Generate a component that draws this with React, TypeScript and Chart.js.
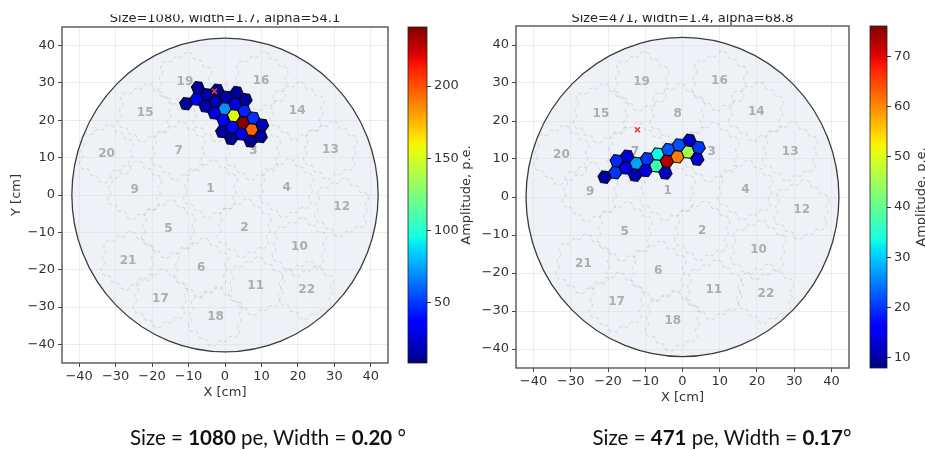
import React, { useEffect, useRef } from "react";
import { Chart, registerables } from "chart.js";

Chart.register(...registerables);

const FONT = '"DejaVu Sans", Verdana, sans-serif';

// ---------- axes ----------
const axisTickValues = [-40, -30, -20, -10, 0, 10, 20, 30, 40];
const xLimits = [-44.7, 44.7];
const yLimits = [-45, 45];
const cameraRadius = 42;

// ---------- camera modules (clusters) ----------
const moduleNames = ["1", "2", "3", "4", "5", "6", "7", "8", "9", "10", "11", "12", "13", "14", "15", "16", "17", "18", "19", "20", "21", "22"];
const moduleX = [-4.0, 5.3, 7.8, 16.9, -15.5, -6.5, -12.7, -1.3, -24.8, 20.4, 8.4, 32.0, 28.9, 19.8, -21.9, 9.9, -17.7, -2.6, -11.0, -32.5, -26.6, 22.4];
const moduleY = [1.6, -8.9, 11.8, 1.8, -9.1, -19.4, 11.8, 22.0, 1.3, -13.9, -24.4, -3.3, 12.0, 22.5, 22.0, 30.5, -27.7, -32.7, 30.4, 11.0, -17.6, -25.5];

// ---------- left event ----------
const leftTitle = "Size=1080, width=1.7, alpha=54.1";
const leftPixX = [-10.68, -7.83, -7.45, -5.36, -4.98, -2.89, -2.51, -2.13, -0.8, -0.42, -0.04, 0.34, 1.67, 2.05, 2.43, 2.81, 3.19, 4.52, 4.9, 5.28, 5.66, 6.99, 7.37, 7.75, 9.84, 10.22];
const leftPixY = [24.46, 25.67, 28.75, 23.8, 26.88, 21.93, 25.01, 28.09, 16.98, 20.06, 23.14, 26.22, 15.11, 18.19, 21.27, 24.35, 27.43, 16.32, 19.4, 22.48, 25.56, 14.45, 17.53, 20.61, 15.66, 18.74];
const leftPixAmp = [14, 32, 15, 18, 16, 28, 20, 13, 15, 35, 70, 16, 12, 38, 152, 30, 14, 30, 240, 45, 14, 13, 195, 48, 15, 20];
const leftMarkX = [-2.9];
const leftMarkY = [27.8];
const leftCbRange = [8, 241];
const leftCbTicks = [50, 100, 150, 200];
const leftSize = "1080";
const leftWidth = "0.20";

// ---------- right event ----------
const rightTitle = "Size=471, width=1.4, alpha=68.8";
const rightPixX = [-20.92, -18.07, -17.69, -14.84, -15.22, -12.37, -12.75, -9.52, -9.9, -6.67, -7.05, -4.2, -4.58, -3.82, -1.35, -0.97, 1.88, 1.5, 4.35, 3.97];
const rightPixY = [5.22, 6.43, 9.51, 10.72, 7.64, 8.85, 5.77, 10.06, 6.98, 11.27, 8.19, 9.4, 6.32, 12.48, 10.61, 13.69, 14.9, 11.82, 13.03, 9.95];
const rightPixAmp = [10, 20, 19, 13, 14, 27, 11, 20, 14, 33, 37, 73, 12, 22, 61, 22, 12, 45, 20, 13];
const rightMarkX = [-12.1];
const rightMarkY = [17.7];
const rightCbRange = [8, 76];
const rightCbTicks = [10, 20, 30, 40, 50, 60, 70];
const rightSize = "471";
const rightWidth = "0.17";

// ---------- pixel geometry ----------
const pixelPitch = 3.1;
const latticeRot = (-7 * Math.PI) / 180;
const hexR = pixelPitch / Math.sqrt(3);

// jet colormap
const jetR = [[0, 0], [0.35, 0], [0.66, 1], [0.89, 1], [1, 0.5]];
const jetG = [[0, 0], [0.125, 0], [0.375, 1], [0.64, 1], [0.91, 0], [1, 0]];
const jetB = [[0, 0.5], [0.11, 1], [0.34, 1], [0.65, 0], [1, 0]];
function seg(pts: number[][], t: number) {
  for (let i = 1; i < pts.length; i++) {
    if (t <= pts[i][0]) {
      const [t0, v0] = pts[i - 1];
      const [t1, v1] = pts[i];
      return v0 + ((v1 - v0) * (t - t0)) / (t1 - t0);
    }
  }
  return pts[pts.length - 1][1];
}
function jet(t: number) {
  const u = Math.max(0, Math.min(1, t));
  return `rgb(${Math.round(255 * seg(jetR, u))},${Math.round(255 * seg(jetG, u))},${Math.round(255 * seg(jetB, u))})`;
}

const minus = (v: any) => String(v).replace("-", "\u2212");

const hexDirs = [[1, 0], [0, 1], [-1, 1], [-1, 0], [0, -1], [1, -1]];
const clusterCells: number[][] = [];
for (let q = -2; q <= 2; q++)
  for (let r = -2; r <= 2; r++)
    if ((Math.abs(q) + Math.abs(r) + Math.abs(q + r)) / 2 <= 2) clusterCells.push([q, r]);
const inCluster = (q: number, r: number) => (Math.abs(q) + Math.abs(r) + Math.abs(q + r)) / 2 <= 2;

function hexVert(cx: number, cy: number, k: number) {
  const a = latticeRot + (k * Math.PI) / 3;
  return [cx + hexR * Math.cos(a), cy + hexR * Math.sin(a)];
}

function cameraPlugin(title: string, cbRange: number[]) {
  return {
    id: "camera",
    beforeDatasetsDraw(chart: any) {
      const { ctx, chartArea: ca, scales } = chart;
      const xs = scales.x;
      const ys = scales.y;
      const P = (x: number, y: number) => [xs.getPixelForValue(x), ys.getPixelForValue(y)];
      ctx.save();
      ctx.beginPath();
      ctx.rect(ca.left, ca.top, ca.right - ca.left, ca.bottom - ca.top);
      ctx.clip();
      // camera disc
      const [cx, cy] = P(0, 0);
      const rx = Math.abs(xs.getPixelForValue(cameraRadius) - cx);
      const ry = Math.abs(ys.getPixelForValue(cameraRadius) - cy);
      ctx.beginPath();
      ctx.ellipse(cx, cy, rx, ry, 0, 0, Math.PI * 2);
      ctx.fillStyle = "rgba(212,222,232,0.4)";
      ctx.fill();
      ctx.lineWidth = 1.3;
      ctx.strokeStyle = "#3c3c3c";
      ctx.stroke();
      // module outlines
      const bx = pixelPitch * Math.cos(latticeRot + Math.PI / 6);
      const by = pixelPitch * Math.sin(latticeRot + Math.PI / 6);
      const ax = pixelPitch * Math.cos(latticeRot + Math.PI / 2);
      const ay = pixelPitch * Math.sin(latticeRot + Math.PI / 2);
      ctx.setLineDash([2.5, 2]);
      ctx.strokeStyle = "rgba(120,120,120,0.3)";
      ctx.lineWidth = 0.7;
      const mods = chart.data.datasets[1].data;
      ctx.beginPath();
      mods.forEach((m: any) => {
        clusterCells.forEach(([q, r]) => {
          const ccx = m.x + q * bx + r * ax;
          const ccy = m.y + q * by + r * ay;
          for (let k = 0; k < 6; k++) {
            if (inCluster(q + hexDirs[k][0], r + hexDirs[k][1])) continue;
            const v0 = hexVert(ccx, ccy, k);
            const v1 = hexVert(ccx, ccy, k + 1);
            const p0 = P(v0[0], v0[1]);
            const p1 = P(v1[0], v1[1]);
            ctx.moveTo(p0[0], p0[1]);
            ctx.lineTo(p1[0], p1[1]);
          }
        });
      });
      ctx.stroke();
      ctx.setLineDash([]);
      // module labels
      ctx.font = `bold 12px ${FONT}`;
      ctx.fillStyle = "#adadad";
      ctx.textAlign = "center";
      ctx.textBaseline = "middle";
      chart.getDatasetMeta(1).data.forEach((el: any, i: number) => {
        ctx.fillText(moduleNames[i], el.x, el.y);
      });
      // event pixels
      const pts = chart.data.datasets[0].data;
      pts.forEach((d: any) => {
        ctx.beginPath();
        for (let k = 0; k < 6; k++) {
          const v = hexVert(d.x, d.y, k);
          const p = P(v[0], v[1]);
          if (k === 0) ctx.moveTo(p[0], p[1]);
          else ctx.lineTo(p[0], p[1]);
        }
        ctx.closePath();
        ctx.fillStyle = jet((d.a - cbRange[0]) / (cbRange[1] - cbRange[0]));
        ctx.fill();
        ctx.lineWidth = 1.1;
        ctx.strokeStyle = "rgba(0,0,0,0.9)";
        ctx.stroke();
      });
      ctx.restore();
    },
    afterDatasetsDraw(chart: any) {
      const { ctx, chartArea: ca } = chart;
      ctx.save();
      ctx.lineWidth = 1.4;
      ctx.strokeStyle = "#555";
      ctx.strokeRect(ca.left, ca.top, ca.right - ca.left, ca.bottom - ca.top);
      ctx.restore();
    },
    afterDraw(chart: any) {
      const { ctx, chartArea: ca } = chart;
      ctx.save();
      ctx.beginPath();
      ctx.rect(0, 14.5, chart.width, 20);
      ctx.clip();
      ctx.font = `13px ${FONT}`;
      ctx.fillStyle = "#222";
      ctx.textAlign = "center";
      ctx.textBaseline = "alphabetic";
      ctx.fillText(title, (ca.left + ca.right) / 2, 21.5);
      ctx.restore();
    },
  };
}

function makeMain(
  canvas: HTMLCanvasElement,
  px: number[], py: number[], amp: number[], mx: number[], my: number[],
  title: string, cbRange: number[], padding: any, yWidth: number, showYTitle: boolean
) {
  const tickFont = { family: FONT, size: 13 };
  return new Chart(canvas, {
    type: "scatter",
    data: {
      datasets: [
        { label: "pixels", data: px.map((x, i) => ({ x, y: py[i], a: amp[i] })), pointRadius: 0, pointHoverRadius: 0 } as any,
        { label: "modules", data: moduleX.map((x, i) => ({ x, y: moduleY[i] })), pointRadius: 0, pointHoverRadius: 0 },
        {
          label: "cog",
          data: mx.map((x, i) => ({ x, y: my[i] })),
          pointStyle: "crossRot",
          pointRadius: 3.5,
          borderColor: "#e23b34",
          backgroundColor: "#e23b34",
          borderWidth: 1.6,
        },
      ],
    },
    options: {
      animation: false,
      responsive: false,
      events: [],
      layout: { padding },
      plugins: { legend: { display: false }, tooltip: { enabled: false } },
      scales: {
        x: {
          type: "linear",
          min: xLimits[0],
          max: xLimits[1],
          afterBuildTicks: (s: any) => { s.ticks = axisTickValues.map((v) => ({ value: v })); },
          afterFit: (s: any) => { s.height = 40; },
          grid: { color: "rgba(0,0,0,0.07)", tickLength: 4, tickColor: "#444", tickWidth: 1 },
          border: { display: false },
          ticks: { font: tickFont, color: "#333", padding: 2, maxRotation: 0, callback: (v: any) => minus(v) },
          title: { display: true, text: "X [cm]", font: tickFont, color: "#333", padding: { top: 2, bottom: 3 } },
        },
        y: {
          type: "linear",
          min: yLimits[0],
          max: yLimits[1],
          afterBuildTicks: (s: any) => { s.ticks = axisTickValues.map((v) => ({ value: v })); },
          afterFit: (s: any) => { s.width = yWidth; },
          grid: { color: "rgba(0,0,0,0.07)", tickLength: 4, tickColor: "#444", tickWidth: 1 },
          border: { display: false },
          ticks: { font: tickFont, color: "#333", padding: 3, callback: (v: any) => minus(v) },
          title: { display: showYTitle, text: "Y [cm]", font: tickFont, color: "#333", padding: { top: 5, bottom: 4 } },
        },
      },
    } as any,
    plugins: [cameraPlugin(title, cbRange)],
  });
}

function makeColorbar(canvas: HTMLCanvasElement, range: number[], ticks: number[], padding: any, labelX: number) {
  return new Chart(canvas, {
    type: "bar",
    data: {
      labels: ["cb"],
      datasets: [
        {
          data: [[range[0], range[1]]] as any,
          barPercentage: 1,
          categoryPercentage: 1,
          borderWidth: 0,
          backgroundColor: (c: any) => {
            const { chart } = c;
            const area = chart.chartArea;
            if (!area) return "#00f";
            const g = chart.ctx.createLinearGradient(0, area.bottom, 0, area.top);
            for (let i = 0; i <= 40; i++) g.addColorStop(i / 40, jet(i / 40));
            return g;
          },
        },
      ],
    },
    options: {
      animation: false,
      responsive: false,
      events: [],
      layout: { padding },
      plugins: { legend: { display: false }, tooltip: { enabled: false } },
      scales: {
        x: { display: false },
        y: {
          position: "right",
          min: range[0],
          max: range[1],
          afterBuildTicks: (s: any) => { s.ticks = ticks.map((v) => ({ value: v })); },
          afterFit: (s: any) => { s.width = 35; },
          grid: { drawOnChartArea: false, tickLength: 4, tickColor: "#333" },
          border: { display: false },
          ticks: { font: { family: FONT, size: 13 }, color: "#333", padding: 3 },
        },
      },
    } as any,
    plugins: [
      {
        id: "cbDecor",
        afterDraw(chart: any) {
          const { ctx, chartArea: ca } = chart;
          ctx.save();
          ctx.lineWidth = 0.8;
          ctx.strokeStyle = "#222";
          ctx.strokeRect(ca.left, ca.top, ca.right - ca.left, ca.bottom - ca.top);
          ctx.translate(labelX, (ca.top + ca.bottom) / 2);
          ctx.rotate(-Math.PI / 2);
          ctx.font = `13px ${FONT}`;
          ctx.fillStyle = "#333";
          ctx.textAlign = "center";
          ctx.textBaseline = "middle";
          ctx.fillText("Amplitude, p.e.", 0, 0);
          ctx.restore();
        },
      },
    ],
  });
}

export default function App() {
  const lMain = useRef<HTMLCanvasElement>(null);
  const lCb = useRef<HTMLCanvasElement>(null);
  const rMain = useRef<HTMLCanvasElement>(null);
  const rCb = useRef<HTMLCanvasElement>(null);

  useEffect(() => {
    const charts = [
      makeMain(lMain.current!, leftPixX, leftPixY, leftPixAmp, leftMarkX, leftMarkY, leftTitle, leftCbRange,
        { left: 4, right: 72, top: 27, bottom: 47 }, 58, true),
      makeColorbar(lCb.current!, leftCbRange, leftCbTicks, { left: 8, right: 18, top: 27, bottom: 87 }, 67),
      makeMain(rMain.current!, rightPixX, rightPixY, rightPixAmp, rightMarkX, rightMarkY, rightTitle, rightCbRange,
        { left: 14, right: 11, top: 26, bottom: 42 }, 42, false),
      makeColorbar(rCb.current!, rightCbRange, rightCbTicks, { left: 8, right: 3, top: 26, bottom: 82 }, 59.5),
    ];
    return () => charts.forEach((c) => c.destroy());
  }, []);

  const abs = (left: number, width: number): React.CSSProperties => ({ position: "absolute", left, top: 0, width, height: 450 });
  const capStyle = (center: number): React.CSSProperties => ({
    position: "absolute",
    left: center - 200,
    width: 400,
    top: 425,
    height: 25,
    lineHeight: "25px",
    fontSize: 20.5,
    fontFamily: "Lato, 'Open Sans', sans-serif",
    color: "#111",
    textAlign: "center",
    whiteSpace: "nowrap",
  });

  return (
    <div style={{ position: "fixed", left: 0, top: 0, width: 925, height: 450, background: "#fff", overflow: "hidden" }}>
      <canvas ref={lMain} width={460} height={450} style={abs(0, 460)} />
      <canvas ref={lCb} width={80} height={450} style={abs(400, 80)} />
      <canvas ref={rMain} width={400} height={450} style={abs(460, 400)} />
      <canvas ref={rCb} width={63} height={450} style={abs(862, 63)} />
      <div style={capStyle(268)}>
        Size = <b>{leftSize}</b> pe, Width = <b>{leftWidth}</b> °
      </div>
      <div style={capStyle(722)}>
        Size = <b>{rightSize}</b> pe, Width = <b>{rightWidth}</b>°
      </div>
    </div>
  );
}
